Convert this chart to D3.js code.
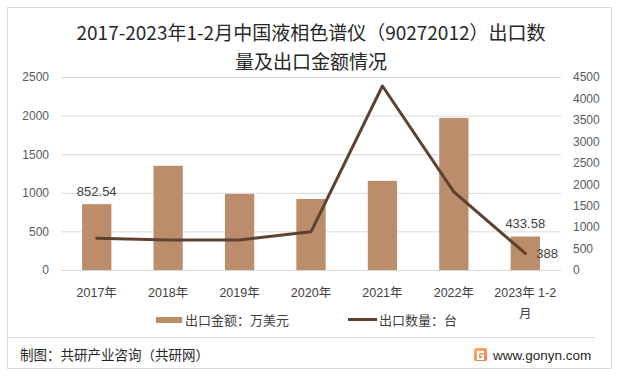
<!DOCTYPE html>
<html>
<head>
<meta charset="utf-8">
<script src="https://cdn.jsdelivr.net/npm/d3@7"></script>
<style>
  body { margin: 0; background: #fff; }
  svg { display: block; font-family: "Liberation Sans", "Noto Sans CJK SC", sans-serif; }
</style>
</head>
<body>
<div id="main"></div>
<script>
// data
const years = ['2017年', '2018年', '2019年', '2020年', '2021年', '2022年', '2023年 1-2月']
const amount = [852.54, 1350, 985, 920, 1155, 1970, 433.58]   // 出口金额：万美元
const qty = [740, 700, 700, 890, 4290, 1820, 388]             // 出口数量：台
const leftTicks = [0, 500, 1000, 1500, 2000, 2500]
const rightTicks = [0, 500, 1000, 1500, 2000, 2500, 3000, 3500, 4000, 4500]

const W = 621, H = 378
const plotL = 61, plotR = 561, plotT = 77, plotB = 270
const barColor = '#bb8d6b', lineColor = '#5e4130', textColor = '#404040'

const svg = d3.select('#main').append('svg').attr('width', W).attr('height', H)

// frame
svg.append('rect').attr('x', 7.5).attr('y', 7.5).attr('width', 604).attr('height', 361)
  .attr('fill', 'none').attr('stroke', '#d9d9d9')

// title
const title = svg.append('text').attr('text-anchor', 'middle').attr('fill', '#262626')
  .style('font-family', '"Noto Sans CJK SC", sans-serif').style('font-size', '19px').style('font-weight', 400)
title.append('tspan').attr('x', 311).attr('y', 40).text('2017-2023年1-2月中国液相色谱仪（90272012）出口数')
title.append('tspan').attr('x', 311).attr('y', 69).text('量及出口金额情况')

const x = d3.scaleBand().domain(years).range([plotL, plotR]).paddingInner(0.59).paddingOuter(0.295)
const yL = d3.scaleLinear().domain([0, 2500]).range([plotB, plotT])
const yR = d3.scaleLinear().domain([0, 4500]).range([plotB, plotT])

// gridlines
svg.append('g').selectAll('line').data(leftTicks).join('line')
  .attr('x1', plotL).attr('x2', plotR)
  .attr('y1', d => yL(d) + 0.5).attr('y2', d => yL(d) + 0.5)
  .attr('stroke', '#d9d9d9')

// axes
const axL = svg.append('g').attr('transform', `translate(${plotL - 12},0)`)
  .call(d3.axisLeft(yL).tickValues(leftTicks).tickFormat(d3.format('d')).tickSize(0).tickPadding(0))
const axR = svg.append('g').attr('transform', `translate(${plotR + 12},0)`)
  .call(d3.axisRight(yR).tickValues(rightTicks).tickFormat(d3.format('d')).tickSize(0).tickPadding(0))
;[axL, axR].forEach(ax => {
  ax.select('.domain').remove()
  ax.selectAll('text').attr('fill', '#595959').style('font-size', '12px')
    .style('font-family', '"Liberation Sans", sans-serif')
})

// bars
svg.append('g').selectAll('rect').data(amount).join('rect')
  .attr('x', (d, i) => x(years[i]))
  .attr('width', x.bandwidth())
  .attr('y', d => yL(d))
  .attr('height', d => plotB - yL(d))
  .attr('fill', barColor)

// line
const cx = i => x(years[i]) + x.bandwidth() / 2
svg.append('path').datum(qty)
  .attr('d', d3.line().x((d, i) => cx(i)).y(d => yR(d)))
  .attr('fill', 'none').attr('stroke', lineColor).attr('stroke-width', 3)
  .attr('stroke-linejoin', 'round').attr('stroke-linecap', 'round')

// data labels
const lab = svg.append('g').attr('fill', textColor).style('font-size', '13px')
lab.append('text').attr('x', cx(0)).attr('y', yL(amount[0]) - 8).attr('text-anchor', 'middle').text('852.54')
lab.append('text').attr('x', cx(6)).attr('y', yL(amount[6]) - 9).attr('text-anchor', 'middle').text('433.58')
lab.append('text').attr('x', cx(6) + 11).attr('y', yR(qty[6]) + 5).text('388')

// x labels
const xl = svg.append('g').attr('fill', textColor).style('font-size', '12.5px')
years.forEach((t, i) => {
  const el = xl.append('text').attr('text-anchor', 'middle')
  if (t.indexOf(' ') > 0) {
    el.append('tspan').attr('x', cx(i)).attr('y', 297).text(t.slice(0, t.length - 1))
    el.append('tspan').attr('x', cx(i)).attr('y', 318).text(t.slice(-1))
  } else {
    el.attr('x', cx(i)).attr('y', 297).text(t)
  }
})

// legend
const lg = svg.append('g').attr('fill', textColor).style('font-size', '13px')
lg.append('rect').attr('x', 156).attr('y', 317).attr('width', 26).attr('height', 6).attr('fill', barColor)
lg.append('text').attr('x', 185).attr('y', 325).text('出口金额：万美元')
lg.append('line').attr('x1', 348).attr('x2', 377).attr('y1', 319.5).attr('y2', 319.5)
  .attr('stroke', lineColor).attr('stroke-width', 3)
lg.append('text').attr('x', 379).attr('y', 325).text('出口数量：台')

// footer
svg.append('line').attr('x1', 8).attr('x2', 595).attr('y1', 337.5).attr('y2', 337.5).attr('stroke', '#d9d9d9')
svg.append('text').attr('x', 20).attr('y', 360).attr('fill', '#262626').style('font-size', '13.5px')
  .text('制图：共研产业咨询（共研网）')
const grad = svg.append('defs').append('linearGradient').attr('id', 'logoGrad')
  .attr('x1', '0%').attr('y1', '0%').attr('x2', '100%').attr('y2', '100%')
grad.append('stop').attr('offset', '0%').attr('stop-color', '#f7b267')
grad.append('stop').attr('offset', '100%').attr('stop-color', '#f27a5e')
svg.append('rect').attr('x', 474).attr('y', 348).attr('width', 13).attr('height', 13).attr('rx', 1.5).attr('fill', 'url(#logoGrad)')
svg.append('path').attr('d', 'M477 351 h7 v2 h-5 v5 h3 v-2 h-1.5 v-1.5 h3.5 v5.5 h-7 z').attr('fill', '#fff')
svg.append('text').attr('x', 493).attr('y', 360).attr('fill', '#262626').style('font-size', '13.5px')
  .style('font-family', '"Liberation Sans", sans-serif').text('www.gonyn.com')
</script>
</body>
</html>
